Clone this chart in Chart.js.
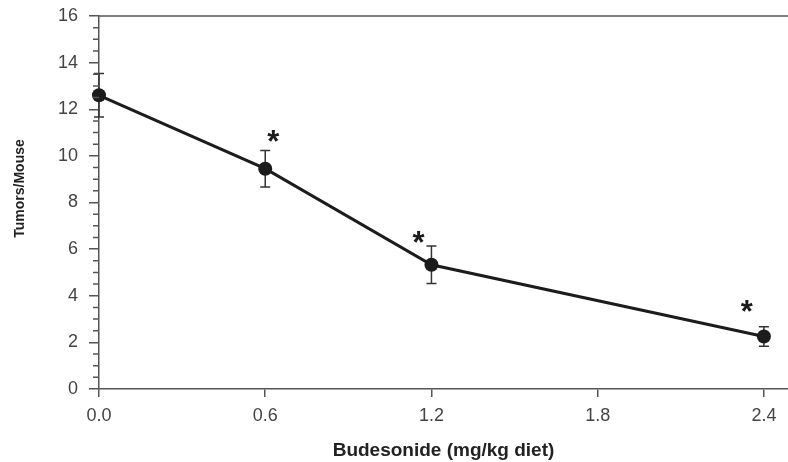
<!DOCTYPE html>
<html>
<head>
<meta charset="utf-8">
<script src="https://cdn.jsdelivr.net/npm/chart.js@4"></script>
<style>
html,body{margin:0;padding:0;background:#fff;}
#wrap{width:788px;height:462px;}
</style>
</head>
<body>
<div id="wrap"><canvas id="c" width="788" height="462"></canvas></div>
<script>
// ---- data ----
const doses = [0.0, 0.6, 1.2, 2.4];            // Budesonide (mg/kg diet)
const tumors = [12.6, 9.45, 5.33, 2.25];        // Tumors/Mouse (mean)
const errors = [0.93, 0.78, 0.8, 0.42];         // +/- error
const significant = [false, true, true, true];  // asterisk marks
const xTicks = [0.0, 0.6, 1.2, 1.8, 2.4];
const yMajor = [0, 2, 4, 6, 8, 10, 12, 14, 16];
const yTitle = 'Tumors/Mouse';

const axisColor = '#555';
const markColor = '#1c1c1c';
const FONT = '"Liberation Sans", Arial, sans-serif';

const extras = {
  id: 'extras',
  beforeDatasetsDraw(chart) {
    const {ctx, scales: {x, y}} = chart;
    ctx.save();
    ctx.strokeStyle = '#333';
    ctx.lineWidth = 1.5;
    doses.forEach((d, i) => {
      const px = x.getPixelForValue(d);
      const top = y.getPixelForValue(tumors[i] + errors[i]);
      const bot = y.getPixelForValue(tumors[i] - errors[i]);
      ctx.beginPath();
      ctx.moveTo(px, top); ctx.lineTo(px, bot);
      ctx.moveTo(px - 5, top); ctx.lineTo(px + 5, top);
      ctx.moveTo(px - 5, bot); ctx.lineTo(px + 5, bot);
      ctx.stroke();
    });
    ctx.restore();
  },
  afterDraw(chart) {
    const {ctx, chartArea, scales: {x, y}} = chart;
    ctx.save();
    // top frame line
    ctx.strokeStyle = axisColor;
    ctx.lineWidth = 1.5;
    const ty = y.getPixelForValue(y.max);
    ctx.beginPath();
    ctx.moveTo(chartArea.left, ty); ctx.lineTo(chartArea.right, ty);
    ctx.stroke();
    // minor ticks on y axis
    ctx.beginPath();
    y.ticks.forEach(t => {
      if (yMajor.indexOf(t.value) === -1) {
        const py = y.getPixelForValue(t.value);
        ctx.moveTo(chartArea.left - 6, py); ctx.lineTo(chartArea.left, py);
      }
    });
    ctx.stroke();
    // y-axis title (placed slightly above the axis centre, as in the reference)
    ctx.save();
    ctx.translate(20, y.getPixelForValue(8.6));
    ctx.rotate(-Math.PI / 2);
    ctx.fillStyle = '#222';
    ctx.font = 'bold 14px ' + FONT;
    ctx.textAlign = 'center';
    ctx.textBaseline = 'middle';
    ctx.fillText(yTitle, 0, 0);
    ctx.restore();
    // significance asterisks
    const offs = [[0, -14], [8, -14], [-13, -9], [-17, -20]];
    ctx.fillStyle = markColor;
    ctx.font = 'bold 31px ' + FONT;
    ctx.textAlign = 'center';
    ctx.textBaseline = 'middle';
    doses.forEach((d, i) => {
      if (!significant[i]) return;
      const px = x.getPixelForValue(d) + offs[i][0];
      const py = y.getPixelForValue(tumors[i] + errors[i]) + offs[i][1];
      ctx.fillText('*', px, py + 7);
    });
    ctx.restore();
  }
};

new Chart(document.getElementById('c'), {
  type: 'line',
  data: {
    datasets: [{
      data: doses.map((d, i) => ({x: d, y: tumors[i]})),
      borderColor: markColor,
      borderWidth: 3,
      pointRadius: 7,
      pointBackgroundColor: markColor,
      pointBorderWidth: 0,
      tension: 0,
      clip: false
    }]
  },
  options: {
    responsive: false,
    animation: false,
    devicePixelRatio: 1,
    layout: {autoPadding: false, padding: {top: 16, right: 0, left: 0, bottom: 0}},
    plugins: {legend: {display: false}, tooltip: {enabled: false}},
    scales: {
      x: {
        type: 'linear',
        min: 0,
        max: 2.487,
        afterBuildTicks: s => { s.ticks = xTicks.map(v => ({value: v})); },
        afterFit: s => { s.height = 73; s.paddingRight = 0; s.paddingLeft = 0; },
        ticks: {
          callback: v => Number(v).toFixed(1),
          font: {family: FONT, size: 18},
          color: '#444',
          padding: 8,
          maxRotation: 0,
          autoSkip: false
        },
        grid: {drawOnChartArea: false, tickLength: 8, color: axisColor, lineWidth: 1.5},
        border: {color: axisColor, width: 1.5},
        title: {
          display: true,
          text: 'Budesonide (mg/kg diet)',
          font: {family: FONT, size: 19, weight: 'bold'},
          color: '#222',
          padding: {top: 4, bottom: 0}
        }
      },
      y: {
        min: 0,
        max: 16,
        afterFit: s => { s.width = 99; s.paddingTop = 0; s.paddingBottom = 0; },
        ticks: {
          stepSize: 0.5,
          autoSkip: false,
          callback: v => (yMajor.indexOf(v) !== -1 ? String(v) : ''),
          font: {family: FONT, size: 18},
          color: '#444',
          padding: 11
        },
        grid: {
          drawOnChartArea: false,
          tickLength: 10,
          lineWidth: 1.5,
          tickColor: ctx => (yMajor.indexOf(ctx.tick.value) !== -1 ? axisColor : 'rgba(0,0,0,0)')
        },
        border: {color: axisColor, width: 1.5},
        title: {display: false}
      }
    }
  },
  plugins: [extras]
});
</script>
</body>
</html>
